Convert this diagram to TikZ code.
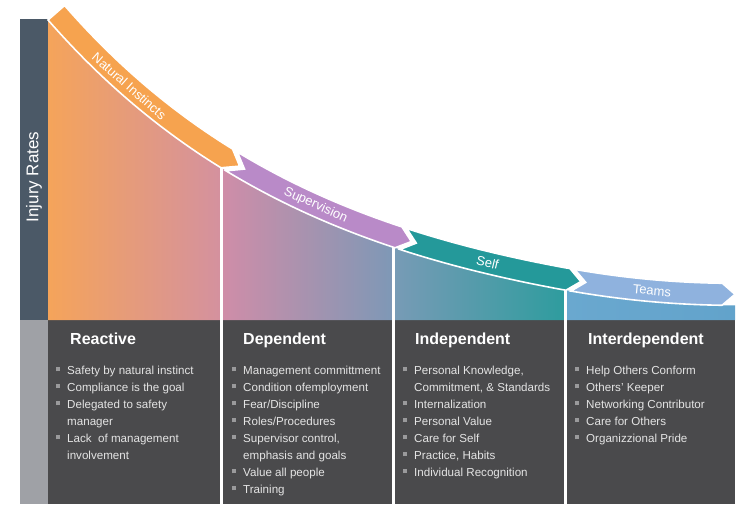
\documentclass[tikz,border=0pt]{standalone}
\usepackage{fontspec}
\setmainfont{Liberation Sans}
\definecolor{barDark}{HTML}{4B5967}
\definecolor{barGrey}{HTML}{9FA1A6}
\definecolor{panel}{HTML}{4A4A4C}
\definecolor{bOrange}{HTML}{F6A34F}
\definecolor{bPurple}{HTML}{B98AC8}
\definecolor{bTeal}{HTML}{24999A}
\definecolor{bBlue}{HTML}{8FB2DE}
\definecolor{gOr}{HTML}{F5A45A}
\definecolor{gPink}{HTML}{D4919F}
\definecolor{gPink2}{HTML}{D08DA8}
\definecolor{gPur}{HTML}{B48CC2}
\definecolor{gSlate}{HTML}{7E98B6}
\definecolor{gSlate2}{HTML}{789BB6}
\definecolor{gTeal}{HTML}{2E9C9E}
\definecolor{gBlue}{HTML}{6AA8CF}
\definecolor{gBlue2}{HTML}{62A3CB}
\definecolor{txt}{HTML}{E4E4E4}
\definecolor{bulgrey}{HTML}{9A9A9C}
\newcommand\bul{\textcolor{bulgrey}{\rule[2.6pt]{4pt}{4pt}}}
% band: colour, start, end, head length, tail part
\newcommand\myband[5]{%
  \draw[bandline, fill=#1] plot[domain=#2:#3,samples=40] ({\x},{fc(\x)})
    -- ({ux(#3+#4,11)},{uy(#3+#4,11)})
    -- plot[domain=#3:#2,samples=40] ({ux(\x,22)},{uy(\x,22)})
    #5 -- cycle;}
\begin{document}
\begin{tikzpicture}[x=1pt,y=-1pt,
  declare function={
    fc(\x)=(\x<565)*(340.7-320.7*exp(-(\x-48)/280))+(\x>=565)*(290+0.181*(\x-565)-0.000532*(\x-565)*(\x-565));
    sl(\x)=(\x<565)*(1.1454*exp(-(\x-48)/280))+(\x>=565)*(0.181-0.001064*(\x-565));
    ux(\x,\w)=\x+\w*sl(\x)/sqrt(1+sl(\x)*sl(\x));
    uy(\x,\w)=fc(\x)-\w/sqrt(1+sl(\x)*sl(\x));
  },
  bandline/.style={draw=white, line width=1.6pt, line join=miter},
  bandtext/.style={text=white, font=\fontsize{13}{15}\selectfont, inner sep=0pt},
  title/.style={text=white, font=\fontsize{16}{18}\selectfont\bfseries, inner sep=0pt, anchor=base west},
  items/.style={text=txt, font=\fontsize{11.6}{17}\selectfont, inner sep=0pt, anchor=base west},
  sep/.style={draw=white, line width=3pt}]

\useasboundingbox (0,0) rectangle (740,506);
\fill[white] (0,0) rectangle (740,506);

% left bars
\fill[barDark] (20,19) rectangle (48,320);
\fill[barGrey] (20,320) rectangle (48,504);
\node[rotate=90, text=white, font=\fontsize{17}{19}\selectfont] (ylab) at (34,177) {Injury Rates};

% panels
\fill[panel] (48,320) rectangle (735,504);

% gradient areas under the curve
\shade[left color=gOr, right color=gPink] (48,320) -- plot[domain=48:221,samples=40] ({\x},{fc(\x)}) -- (221,320) -- cycle;
\shade[left color=gPink2, middle color=gPur, right color=gSlate] (221,320) -- plot[domain=221:393,samples=40] ({\x},{fc(\x)}) -- (393,320) -- cycle;
\shade[left color=gSlate2, right color=gTeal] (393,320) -- plot[domain=393:565,samples=40] ({\x},{fc(\x)}) -- (565,320) -- cycle;
\shade[left color=gBlue, right color=gBlue2] (565,320) -- plot[domain=565:735,samples=40] ({\x},{fc(\x)}) -- (735,320) -- cycle;

% separators
\draw[sep] ({221},{fc(221)}) -- (221,504);
\draw[sep] ({393},{fc(393)}) -- (393,504);
\draw[sep] ({565},{fc(565)}) -- (565,504);

% bands
\myband{bOrange}{48}{221}{13}{}
\myband{bPurple}{226}{395}{13}{-- ({ux(226+13,11)},{uy(226+13,11)})}
\myband{bTeal}{400}{566}{13}{-- ({ux(400+13,11)},{uy(400+13,11)})}
\myband{bBlue}{571}{722}{13}{-- ({ux(571+13,11)},{uy(571+13,11)})}

% band labels
\pgfmathsetmacro\angA{-atan(sl(122))}
\pgfmathsetmacro\angB{-atan(sl(311))}
\pgfmathsetmacro\angC{-atan(sl(485))}
\pgfmathsetmacro\angD{-atan(sl(651))}
\node[bandtext, rotate=\angA] (lab1) at ({ux(122,11)},{uy(122,11)}) {Natural Instincts};
\node[bandtext, rotate=\angB] (lab2) at ({ux(311,11)},{uy(311,11)}) {Supervision};
\node[bandtext, rotate=\angC] (lab3) at ({ux(485,11)},{uy(485,11)}) {Self};
\node[bandtext, rotate=\angD] (lab4) at ({ux(651,11)},{uy(651,11)}) {Teams};

% titles
\node[title] (t1) at (70,344) {Reactive};
\node[title] (t2) at (243,344) {Dependent};
\node[title] (t3) at (415,344) {Independent};
\node[title] (t4) at (588,344) {Interdependent};

% bullet lists
\node[items] (l1) at (56,374) {\begin{tabular}[t]{@{}l@{\hspace{7pt}}l@{}}
\bul & Safety by natural instinct\\
\bul & Compliance is the goal\\
\bul & Delegated to safety\\
 & manager\\
\bul & Lack\ \ of management\\
 & involvement
\end{tabular}};
\node[items] (l2) at (232,374) {\begin{tabular}[t]{@{}l@{\hspace{7pt}}l@{}}
\bul & Management committment\\
\bul & Condition ofemployment\\
\bul & Fear/Discipline\\
\bul & Roles/Procedures\\
\bul & Supervisor control,\\
 & emphasis and goals\\
\bul & Value all people\\
\bul & Training
\end{tabular}};
\node[items] (l3) at (403,374) {\begin{tabular}[t]{@{}l@{\hspace{7pt}}l@{}}
\bul & Personal Knowledge,\\
 & Commitment, \& Standards\\
\bul & Internalization\\
\bul & Personal Value\\
\bul & Care for Self\\
\bul & Practice, Habits\\
\bul & Individual Recognition
\end{tabular}};
\node[items] (l4) at (575,374) {\begin{tabular}[t]{@{}l@{\hspace{7pt}}l@{}}
\bul & Help Others Conform\\
\bul & Others' Keeper\\
\bul & Networking Contributor\\
\bul & Care for Others\\
\bul & Organizzional Pride
\end{tabular}};
\end{tikzpicture}
\end{document}
